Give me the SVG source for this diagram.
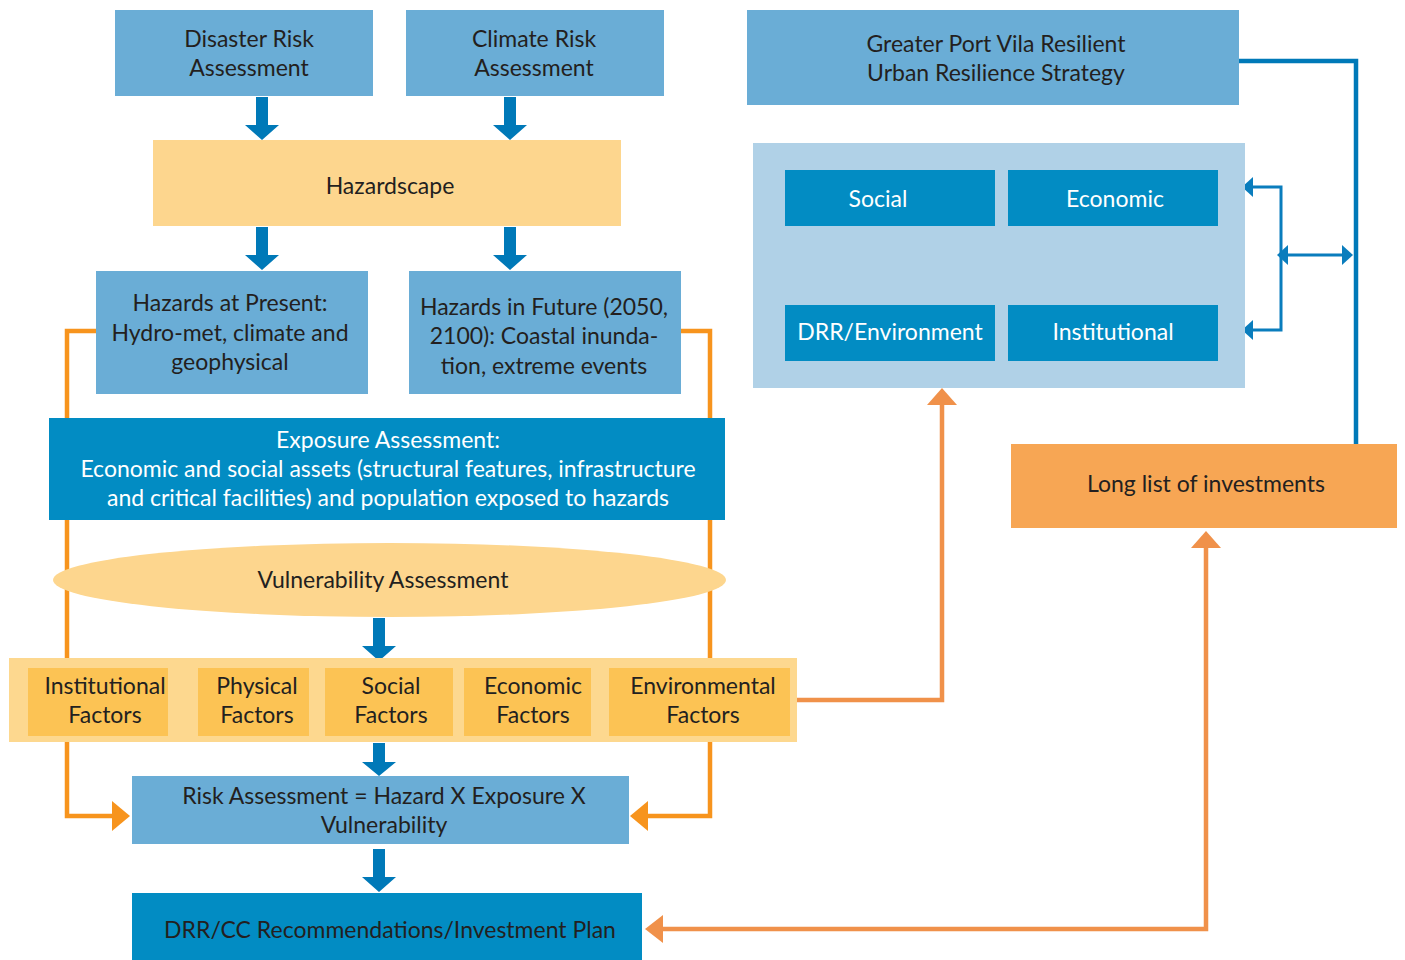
<svg xmlns="http://www.w3.org/2000/svg" width="1405" height="960" viewBox="0 0 1405 960">
<style>
  text { font-family: Lato, "Open Sans", "Liberation Sans", sans-serif; font-size: 23px; fill: #231f20; text-anchor: middle; }
  .w { fill: #ffffff; }
  .mid { fill: #6aadd6; }
  .dark { fill: #028cc3; }
  .sand { fill: #fdd68e; }
  .band { fill: #fdd88f; }
  .fac { fill: #fcc354; }
  .panel { fill: #b0d1e7; }
  .inv { fill: #f7a654; }
  .org { fill: none; stroke: #f7941d; stroke-width: 4.5; }
  .org2 { fill: none; stroke: #f0914a; stroke-width: 4.5; }
  .blu { fill: none; stroke: #0079b8; stroke-width: 4.5; }
  .thin { fill: none; stroke: #0a7dbd; stroke-width: 3; }
  .bah { fill: #0079b8; }
  .oh { fill: #f7941d; }
  .oh2 { fill: #f0914a; }
  .th { fill: #0a7dbd; }
</style>
<defs>
  <path id="bigArrow" d="M-6,0 H6 V28 H17 L0,43 L-17,28 H-6 Z"/>
</defs>
<rect width="1405" height="960" fill="#ffffff"/>

<g id="connectors">
  <!-- orange side loops -->
  <path class="org" d="M96,331 H67 V816 H114"/>
  <path class="oh" d="M112,801 L130,816 L112,831 Z"/>
  <path class="org" d="M681,331 H710 V816 H646"/>
  <path class="oh" d="M648,801 L630,816 L648,831 Z"/>
  <!-- environmental to panel -->
  <path class="org2" d="M797,700 H942 V403"/>
  <path class="oh2" d="M927,405 L942,388 L957,405 Z"/>
  <!-- DRR/CC to long list -->
  <path class="org2" d="M660,929 H1206 V547"/>
  <path class="oh2" d="M663,915 L645,929 L663,943 Z"/>
  <path class="oh2" d="M1191,548 L1206,531 L1221,548 Z"/>
  <!-- strategy to long list -->
  <path class="blu" d="M1239,61 H1356 V444"/>
  <!-- bracket -->
  <path class="thin" d="M1250,187 H1281 V330 H1250"/>
  <path class="th" d="M1253,177 L1242,187 L1253,197 Z"/>
  <path class="th" d="M1253,320 L1242,330 L1253,340 Z"/>
  <path class="thin" d="M1285,255 H1345"/>
  <path class="th" d="M1288,245 L1277,255 L1288,265 Z"/>
  <path class="th" d="M1342,245 L1353,255 L1342,265 Z"/>
  <!-- big blue arrows -->
  <use href="#bigArrow" class="bah" x="262" y="97"/>
  <use href="#bigArrow" class="bah" x="510" y="97"/>
  <use href="#bigArrow" class="bah" x="262" y="227"/>
  <use href="#bigArrow" class="bah" x="510" y="227"/>
  <use href="#bigArrow" class="bah" x="379" y="618"/>
  <path class="bah" d="M373,743 H385 V762 H396 L379,776 L362,762 H373 Z"/>
  <use href="#bigArrow" class="bah" x="379" y="849"/>
</g>

<g id="disaster-risk">
  <rect class="mid" x="115" y="10" width="258" height="86"/>
  <text x="249" y="47">Disaster Risk</text>
  <text x="249" y="76">Assessment</text>
</g>
<g id="climate-risk">
  <rect class="mid" x="406" y="10" width="258" height="86"/>
  <text x="534" y="47">Climate Risk</text>
  <text x="534" y="76">Assessment</text>
</g>
<g id="hazardscape">
  <rect class="sand" x="153" y="140" width="468" height="86"/>
  <text x="390" y="194">Hazardscape</text>
</g>
<g id="hazards-present">
  <rect class="mid" x="96" y="271" width="272" height="123"/>
  <text x="230" y="311">Hazards at Present:</text>
  <text x="230" y="341">Hydro-met, climate and</text>
  <text x="230" y="370">geophysical</text>
</g>
<g id="hazards-future">
  <rect class="mid" x="409" y="271" width="272" height="123"/>
  <text x="544" y="315">Hazards in Future (2050,</text>
  <text x="544" y="344">2100): Coastal inunda-</text>
  <text x="544" y="374">tion, extreme events</text>
</g>
<g id="exposure">
  <rect class="dark" x="49" y="418" width="676" height="102"/>
  <text class="w" x="388" y="448">Exposure Assessment:</text>
  <text class="w" x="388" y="477">Economic and social assets (structural features, infrastructure</text>
  <text class="w" x="388" y="506">and critical facilities) and population exposed to hazards</text>
</g>
<g id="vulnerability">
  <ellipse class="sand" cx="389.5" cy="580" rx="336.5" ry="37"/>
  <text x="383" y="588">Vulnerability Assessment</text>
</g>
<g id="factors">
  <rect class="band" x="9" y="658" width="788" height="84"/>
  <g id="institutional-factors">
    <rect class="fac" x="28" y="668" width="140" height="68"/>
    <text x="105" y="694">Institutional</text>
    <text x="105" y="723">Factors</text>
  </g>
  <g id="physical-factors">
    <rect class="fac" x="198" y="668" width="111" height="68"/>
    <text x="257" y="694">Physical</text>
    <text x="257" y="723">Factors</text>
  </g>
  <g id="social-factors">
    <rect class="fac" x="325" y="668" width="128" height="68"/>
    <text x="391" y="694">Social</text>
    <text x="391" y="723">Factors</text>
  </g>
  <g id="economic-factors">
    <rect class="fac" x="464" y="668" width="127" height="68"/>
    <text x="533" y="694">Economic</text>
    <text x="533" y="723">Factors</text>
  </g>
  <g id="environmental-factors">
    <rect class="fac" x="609" y="668" width="181" height="68"/>
    <text x="703" y="694">Environmental</text>
    <text x="703" y="723">Factors</text>
  </g>
</g>
<g id="risk-assessment">
  <rect class="mid" x="132" y="776" width="497" height="68"/>
  <text x="384" y="804">Risk Assessment = Hazard X Exposure X</text>
  <text x="384" y="833">Vulnerability</text>
</g>
<g id="drr-cc">
  <rect class="dark" x="132" y="893" width="510" height="67"/>
  <text x="390" y="938">DRR/CC Recommendations/Investment Plan</text>
</g>
<g id="strategy">
  <rect class="mid" x="747" y="10" width="492" height="95"/>
  <text x="996" y="52">Greater Port Vila Resilient</text>
  <text x="996" y="81">Urban Resilience Strategy</text>
</g>
<g id="pillars">
  <rect class="panel" x="753" y="143" width="492" height="245"/>
  <g id="social">
    <rect class="dark" x="785" y="170" width="210" height="56"/>
    <text class="w" x="878" y="207">Social</text>
  </g>
  <g id="economic">
    <rect class="dark" x="1008" y="170" width="210" height="56"/>
    <text class="w" x="1115" y="207">Economic</text>
  </g>
  <g id="drr-environment">
    <rect class="dark" x="785" y="305" width="210" height="56"/>
    <text class="w" x="890" y="340">DRR/Environment</text>
  </g>
  <g id="institutional">
    <rect class="dark" x="1008" y="305" width="210" height="56"/>
    <text class="w" x="1113" y="340">Institutional</text>
  </g>
</g>
<g id="long-list">
  <rect class="inv" x="1011" y="444" width="386" height="84"/>
  <text x="1206" y="492">Long list of investments</text>
</g>
</svg>
